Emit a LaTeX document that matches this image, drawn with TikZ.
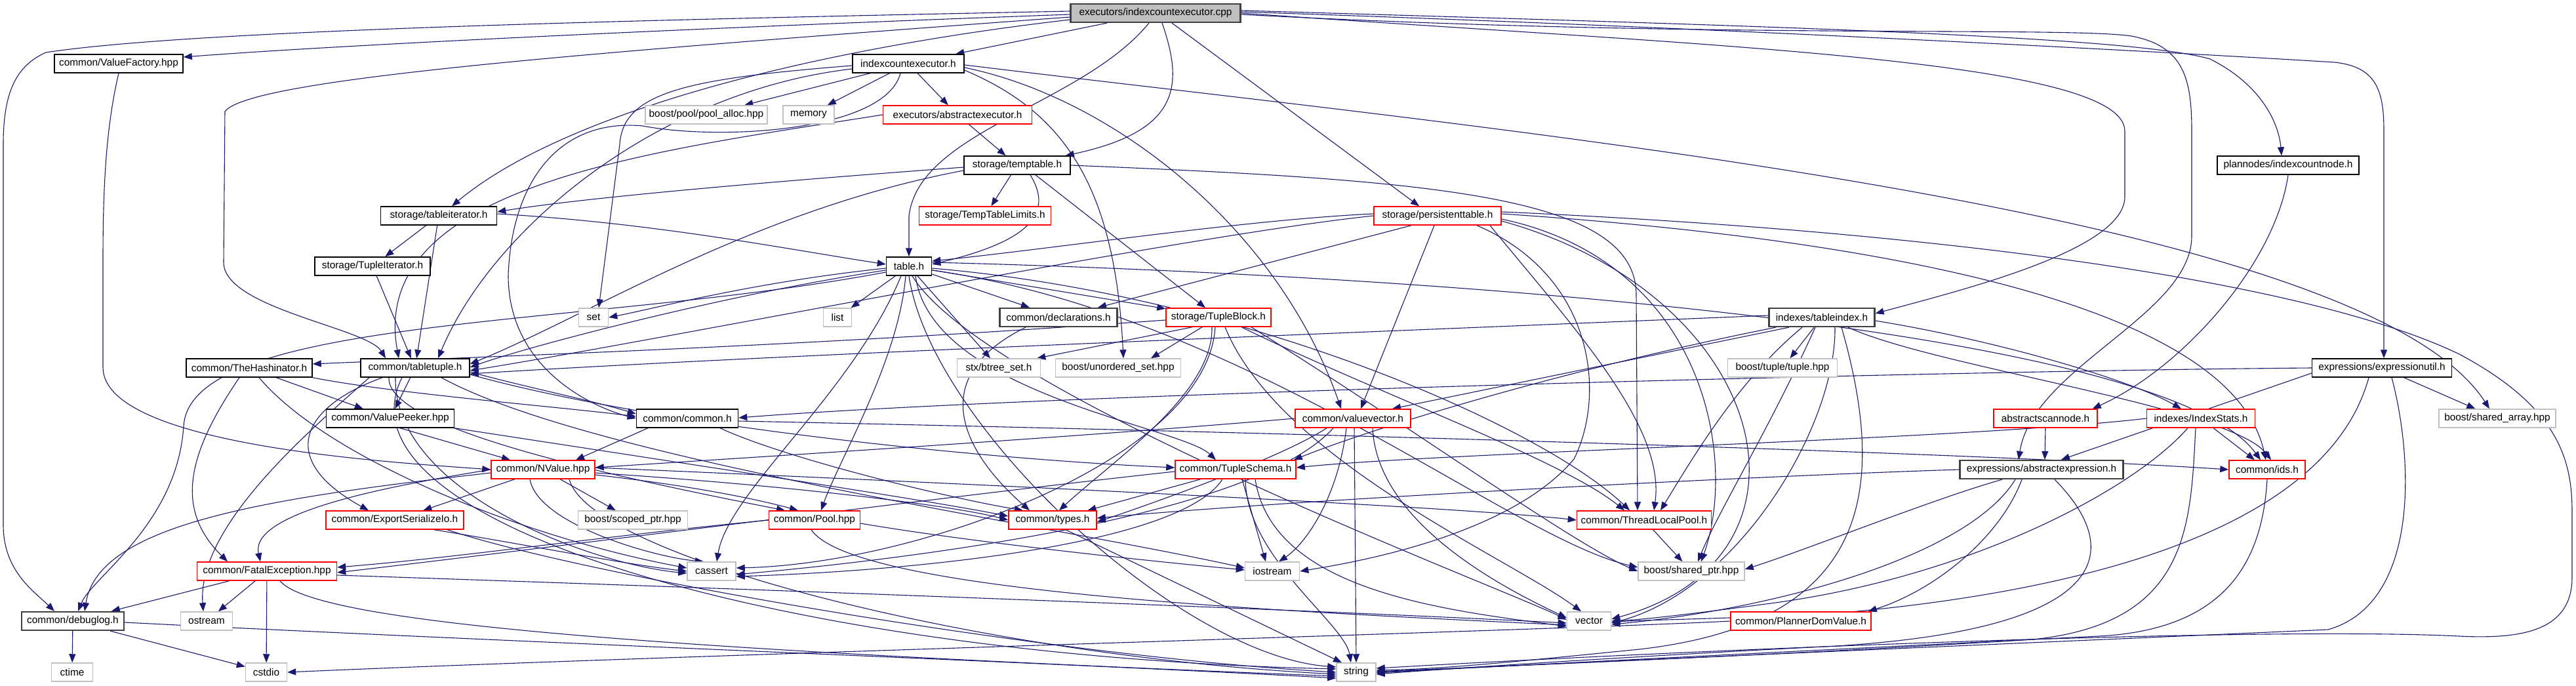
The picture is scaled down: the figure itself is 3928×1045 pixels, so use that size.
\documentclass[tikz,border=0pt]{standalone}
\usepackage{fontspec}
\setmainfont{Liberation Sans}
\usetikzlibrary{arrows.meta}
\definecolor{edgec}{HTML}{191970}
\definecolor{gbord}{HTML}{BFBFBF}
\definecolor{rootfill}{HTML}{BFBFBF}
\pgfdeclarelayer{back}
\pgfdeclarelayer{bg}
\pgfsetlayers{back,bg,main}
\begin{document}
\begin{tikzpicture}[x=1pt,y=-1pt,
  nb/.style={draw, fill=white, line width=1.5pt, minimum height=28pt, inner sep=0pt, font=\fontsize{15.4pt}{18pt}\selectfont, text=black},
  blk/.style={nb, draw=black},
  dblk/.style={nb, draw=black!75, line width=2.2pt},
  redb/.style={nb, draw=red},
  gryb/.style={nb, draw=gbord},
  rootb/.style={nb, draw=black!75, line width=2.2pt, fill=rootfill},
  edg/.style={draw=edgec, line width=1.1pt, -{Triangle[length=13pt,width=10pt]}}
]
\useasboundingbox (0,0) rectangle (3928,1045);
\begin{pgfonlayer}{back}
\fill[white] (0,0) rectangle (3928,1045);
\end{pgfonlayer}
% nodes
\node[rootb, minimum width=259pt] (cpp) at (1762,20) {executors/indexcountexecutor.cpp};
\node[blk, minimum width=196pt] (vf) at (181,97) {common/ValueFactory.hpp};
\node[blk, minimum width=170pt] (ice) at (1385,97) {indexcountexecutor.h};
\node[gryb, minimum width=186pt] (pool) at (1077,175) {boost/pool/pool\_alloc.hpp};
\node[gryb, minimum width=78pt] (mem) at (1233,175) {memory};
\node[redb, minimum width=227pt] (absx) at (1460,175) {executors/abstractexecutor.h};
\node[blk, minimum width=162pt] (temp) at (1551,252) {storage/temptable.h};
\node[redb, minimum width=201pt] (ttl) at (1502,329) {storage/TempTableLimits.h};
\node[redb, minimum width=194pt] (pers) at (2192,329) {storage/persistenttable.h};
\node[blk, minimum width=216pt] (icn) at (3489,252) {plannodes/indexcountnode.h};
\node[blk, minimum width=177pt] (titer) at (669,329) {storage/tableiterator.h};
\node[blk, minimum width=176pt] (tupit) at (568,406) {storage/TupleIterator.h};
\node[gryb, minimum width=45pt] (set) at (905,484) {set};
\node[blk, minimum width=192pt] (hash) at (380,561) {common/TheHashinator.h};
\node[blk, minimum width=166pt] (tt) at (633,561) {common/tabletuple.h};
\node[blk, minimum width=195pt] (vp) at (595,638) {common/ValuePeeker.hpp};
\node[blk, minimum width=155pt] (com) at (1048,638) {common/common.h};
\node[blk, minimum width=69pt] (table) at (1386,406) {table.h};
\node[gryb, minimum width=43pt] (list) at (1277,484) {list};
\node[dblk, minimum width=179pt] (decl) at (1614,484) {common/declarations.h};
\node[redb, minimum width=160pt] (tb) at (1858,484) {storage/TupleBlock.h};
\node[gryb, minimum width=127pt] (btree) at (1523,561) {stx/btree\_set.h};
\node[gryb, minimum width=191pt] (uset) at (1705,561) {boost/unordered\_set.hpp};
\node[redb, minimum width=176pt] (vv) at (2063,638) {common/valuevector.h};
\node[dblk, minimum width=161pt] (tidx) at (2778,484) {indexes/tableindex.h};
\node[gryb, minimum width=167pt] (tup) at (2718,561) {boost/tuple/tuple.hpp};
\node[blk, minimum width=213pt] (eu) at (3632,561) {expressions/expressionutil.h};
\node[redb, minimum width=158pt] (asn) at (3119,638) {abstractscannode.h};
\node[redb, minimum width=165pt] (istat) at (3356,638) {indexes/IndexStats.h};
\node[gryb, minimum width=178pt] (sarr) at (3808,638) {boost/shared\_array.hpp};
\node[redb, minimum width=158pt] (nv) at (828,716) {common/NValue.hpp};
\node[redb, minimum width=210pt] (esio) at (602,793) {common/ExportSerializeIo.h};
\node[gryb, minimum width=167pt] (sptr) at (965,793) {boost/scoped\_ptr.hpp};
\node[redb, minimum width=213pt] (fe) at (407,871) {common/FatalException.hpp};
\node[dblk, minimum width=156pt] (dbg) at (111,947) {common/debuglog.h};
\node[gryb, minimum width=79pt] (ostr) at (315,947) {ostream};
\node[gryb, minimum width=63pt] (ctime) at (110,1025) {ctime};
\node[gryb, minimum width=63pt] (cstdio) at (406,1025) {cstdio};
\node[redb, minimum width=139pt] (pool2) at (1242,793) {common/Pool.hpp};
\node[redb, minimum width=134pt] (types) at (1605,793) {common/types.h};
\node[redb, minimum width=184pt] (ts) at (1884,716) {common/TupleSchema.h};
\node[gryb, minimum width=74pt] (cas) at (1085,871) {cassert};
\node[gryb, minimum width=83pt] (ios) at (1940,871) {iostream};
\node[redb, minimum width=205pt] (tlp) at (2507,793) {common/ThreadLocalPool.h};
\node[gryb, minimum width=162pt] (shptr) at (2579,871) {boost/shared\_ptr.hpp};
\node[gryb, minimum width=67pt] (vec) at (2423,947) {vector};
\node[redb, minimum width=214pt] (pdv) at (2746,947) {common/PlannerDomValue.h};
\node[gryb, minimum width=60pt] (str) at (2068,1025) {string};
\node[dblk, minimum width=249pt] (ae) at (3113,716) {expressions/abstractexpression.h};
\node[redb, minimum width=116pt] (ids) at (3457,716) {common/ids.h};

\begin{pgfonlayer}{bg}
% cpp
\draw[edg] (cpp) -- (ice);
\draw[edg] ([yshift=3pt]cpp.west) .. controls (1000,30) and (300,45) .. (70,80) .. controls (25,100) and (5,140) .. (5,220) -- (5,800) .. controls (5,870) and (50,900) .. ([xshift=-28pt]dbg.north);
\draw[edg] ([yshift=-2pt]cpp.west) .. controls (1000,45) and (500,70) .. ([yshift=10pt]vf.east);
\draw[edg] ([yshift=-6pt]cpp.west) .. controls (900,80) and (380,120) .. (343,170) -- (341,400) .. controls (341,470) and (560,500) .. ([xshift=-45pt]tt.north);
\draw[edg] ([yshift=-10pt]cpp.west) .. controls (1200,80) and (850,180) .. ([xshift=20pt]titer.north);
\draw[edg] ([xshift=10pt]cpp.south) .. controls (1805,130) and (1800,200) .. ([xshift=-8pt]temp.north east);
\draw[edg] ([xshift=-10pt]cpp.south) .. controls (1650,160) and (1400,200) .. (1386,330) -- (table.north);
\draw[edg] ([xshift=25pt]cpp.south) -- ([xshift=-28pt]pers.north);
\draw[edg] ([yshift=4pt]cpp.east) .. controls (2700,40) and (3250,55) .. (3370,90) .. controls (3450,130) and (3475,190) .. ([xshift=-10pt]icn.north);
\draw[edg] ([yshift=2pt]cpp.east) .. controls (2700,45) and (3400,85) .. (3560,95) .. controls (3625,102) and (3635,140) .. (3635,200) -- ([xshift=3pt]eu.north);
\draw[edg] (cpp.east) .. controls (2600,70) and (3240,90) .. (3240,200) -- (3240,300) .. controls (3240,380) and (3000,440) .. ([yshift=6pt]tidx.east);
\draw[edg] ([yshift=-2pt]cpp.east) .. controls (2600,60) and (3150,40) .. (3250,55) .. controls (3330,70) and (3342,120) .. (3342,200) -- (3342,360) .. controls (3342,480) and (3100,560) .. ([xshift=-35pt]ae.north);
% vf
\draw[edg] (vf.south) .. controls (160,200) and (157,300) .. (157,400) -- (157,560) .. controls (157,680) and (600,705) .. (nv.west);
% ice
\draw[edg] (ice) -- (pool);
\draw[edg] (ice) -- (mem);
\draw[edg] (ice) -- (absx);
\draw[edg] ([yshift=-3pt]ice.west) .. controls (1050,120) and (950,140) .. (945,220) -- ([xshift=8pt]set.north);
\draw[edg] ([yshift=-8pt]ice.west) .. controls (1000,140) and (750,350) .. ([xshift=35pt]tt.north);
\draw[edg] ([xshift=-12pt]ice.south) .. controls (1350,200) and (1100,215) .. (980,192) .. controls (850,180) and (780,280) .. (775,420) .. controls (775,560) and (900,620) .. (com.west);
\draw[edg] ([yshift=-6pt]ice.east) .. controls (1700,150) and (1950,350) .. ([xshift=-18pt]vv.north);
\draw[edg] ([yshift=-10pt]ice.east) .. controls (1620,170) and (1700,280) .. ([xshift=8pt]uset.north);
\draw[edg] ([yshift=-2pt]ice.east) .. controls (2300,200) and (3600,320) .. ([xshift=-12pt]sarr.north);
% absx
\draw[edg] (absx) -- (temp);
\draw[edg] (absx.west) .. controls (1000,230) and (560,280) .. ([xshift=-25pt]tt.north);
% temp
\draw[edg] (temp) -- (ttl);
\draw[edg] ([yshift=-3pt]temp.west) .. controls (1200,275) and (900,300) .. ([yshift=6pt]titer.east);
\draw[edg] ([yshift=-8pt]temp.west) .. controls (1150,320) and (900,480) .. ([yshift=6pt]tt.east);
\draw[edg] ([xshift=20pt]temp.south) .. controls (1610,330) and (1560,370) .. ([yshift=3pt]table.east);
\draw[edg] ([xshift=28pt]temp.south) -- ([xshift=-20pt]tb.north);
\draw[edg] (temp.east) .. controls (2200,275) and (2495,300) .. (2495,450) -- ([xshift=-10pt]tlp.north);
% titer
\draw[edg] (titer) -- (tupit);
\draw[edg] (titer) -- (tt);
\draw[edg] ([yshift=3pt]titer.east) .. controls (1000,340) and (1200,380) .. ([yshift=3pt]table.west);
% tupit
\draw[edg] (tupit) -- (tt);
% table
\draw[edg] (table) -- (list);
\draw[edg] (table) -- (decl);
\draw[edg] (table) -- (tb);
\draw[edg] (table) -- (btree);
\draw[edg] ([yshift=-3pt]table.west) .. controls (1150,430) and (1000,470) .. (set.east);
\draw[edg] ([yshift=-6pt]table.west) .. controls (1100,450) and (800,530) .. ([yshift=1pt]tt.east);
\draw[edg] ([yshift=-9pt]table.west) .. controls (900,500) and (290,480) .. (280,650) .. controls (270,800) and (140,880) .. ([xshift=8pt]dbg.north);
\draw[edg] ([xshift=10pt]table.south) .. controls (1420,600) and (1800,650) .. ([xshift=-30pt]ts.north);
\draw[edg] ([xshift=-5pt]table.south) .. controls (1370,550) and (1280,700) .. ([xshift=10pt]pool2.north);
\draw[edg] ([xshift=-12pt]table.south) .. controls (1300,600) and (1110,750) .. ([xshift=8pt]cas.north);
\draw[edg] ([yshift=-3pt]table.east) .. controls (1900,450) and (2350,650) .. ([xshift=-22pt]tlp.north);
\draw[edg] ([yshift=-6pt]table.east) .. controls (1900,480) and (2300,820) .. ([yshift=6pt]shptr.west);
\draw[edg] ([xshift=5pt]table.south) .. controls (1500,600) and (2300,900) .. ([yshift=2pt]vec.west);
\draw[edg] (table.south) .. controls (1420,650) and (1800,1000) .. ([yshift=8pt]str.west);
\draw[edg] ([yshift=6pt]table.east) .. controls (2200,420) and (3300,500) .. ([xshift=-10pt]ids.north);
% pers
\draw[edg] ([yshift=3pt]pers.west) .. controls (1900,335) and (1600,380) .. ([yshift=8pt]table.east);
\draw[edg] ([xshift=-40pt]pers.south) -- ([xshift=60pt]decl.north);
\draw[edg] (pers.west) .. controls (1800,360) and (1000,520) .. ([yshift=-4pt]tt.east);
\draw[edg] ([xshift=-5pt]pers.south) -- ([xshift=12pt]vv.north);
\draw[edg] ([xshift=60pt]pers.south) .. controls (2430,420) and (2450,600) .. (2400,700) .. controls (2300,820) and (2050,860) .. (ios.east);
\draw[edg] ([xshift=80pt]pers.south) .. controls (2400,500) and (2540,650) .. ([xshift=15pt]tlp.north);
\draw[edg] ([yshift=-5pt]pers.east) .. controls (2600,400) and (2650,700) .. ([xshift=15pt]shptr.north);
\draw[edg] ([yshift=-8pt]pers.east) .. controls (2700,450) and (2800,850) .. ([yshift=3pt]vec.east);
\draw[edg] ([yshift=6pt]pers.east) .. controls (2900,350) and (3500,420) .. (3750,540) .. controls (3900,620) and (3922,700) .. (3922,780) -- (3922,880) .. controls (3922,960) and (3850,975) .. (3750,970) .. controls (3450,955) and (2600,990) .. ([yshift=6pt]str.east);
\draw[edg] ([yshift=3pt]pers.east) .. controls (2800,360) and (3400,450) .. ([xshift=-2pt]ids.north);
% decl
\draw[edg] ([xshift=-50pt]decl.south) .. controls (1400,580) and (1480,700) .. ([xshift=-35pt]types.north);
% tb
\draw[edg] ([xshift=-40pt]tb.south) -- ([xshift=-6pt]btree.north east);
\draw[edg] ([xshift=-25pt]tb.south) -- ([xshift=50pt]uset.north);
\draw[edg] ([yshift=-4pt]tb.west) .. controls (1200,530) and (700,545) .. ([yshift=6pt]hash.east);
\draw[edg] ([xshift=-10pt]tb.south) .. controls (1850,600) and (1700,700) .. ([xshift=10pt]types.north);
\draw[edg] ([xshift=-5pt]tb.south) .. controls (1840,700) and (1400,860) .. ([yshift=5pt]cas.east);
\draw[edg] ([xshift=35pt]tb.south) .. controls (2100,600) and (2380,700) .. ([xshift=-30pt]tlp.north);
\draw[edg] ([xshift=50pt]tb.south) .. controls (2150,650) and (2400,830) .. (shptr.west);
\draw[edg] ([xshift=10pt]tb.south) .. controls (1950,700) and (2300,850) .. ([xshift=-12pt]vec.north);
% tidx
\draw[edg] ([yshift=3pt]tidx.west) .. controls (2000,510) and (1200,540) .. ([yshift=-9pt]tt.east);
\draw[edg] ([xshift=-50pt]tidx.south) -- ([xshift=60pt]vv.north);
\draw[edg] ([xshift=-70pt]tidx.south) .. controls (2400,560) and (2100,650) .. ([xshift=-4pt]ts.north east);
\draw[edg] (tidx) -- (tup);
\draw[edg] ([yshift=-5pt]tidx.east) .. controls (3050,520) and (3250,580) .. ([xshift=-30pt]istat.north);
\draw[edg] ([xshift=40pt]tidx.south) .. controls (2950,560) and (3400,620) .. ([xshift=6pt]ids.north);
\draw[edg] ([xshift=-30pt]tidx.south) .. controls (2650,580) and (2580,700) .. ([xshift=25pt]tlp.north);
\draw[edg] ([xshift=-10pt]tidx.south) .. controls (2700,650) and (2620,780) .. ([xshift=10pt]shptr.north);
\draw[edg] ([xshift=20pt]tidx.south) .. controls (2800,650) and (2650,900) .. ([yshift=-3pt]vec.east);
\draw[edg] ([xshift=30pt]tidx.south) .. controls (2880,750) and (2850,950) .. (2500,990) .. controls (2300,1010) and (2200,1020) .. ([yshift=3pt]str.east);
% icn, asn
\draw[edg] (icn.south) .. controls (3470,400) and (3330,560) .. ([xshift=-8pt]asn.north east);
\draw[edg] (asn.south) -- ([xshift=5pt]ae.north);
% eu
\draw[edg] (eu.west) .. controls (3000,565) and (1600,600) .. ([yshift=1pt]com.east);
\draw[edg] ([yshift=-8pt]eu.west) -- ([xshift=30pt]ae.north);
\draw[edg] (eu) -- (sarr);
\draw[edg] ([xshift=-20pt]eu.south) .. controls (3550,800) and (3200,900) .. (2800,935) .. controls (2600,945) and (2500,945) .. ([yshift=-2pt]vec.east);
\draw[edg] ([xshift=15pt]eu.south) .. controls (3680,700) and (3690,920) .. (3550,960) .. controls (3100,980) and (2400,1010) .. (str.east);
% ae
\draw[edg] (ae.west) .. controls (2700,725) and (2000,760) .. ([yshift=3pt]types.east);
\draw[edg] ([xshift=-30pt]ae.south) .. controls (3050,820) and (2950,900) .. ([xshift=-5pt]pdv.north east);
\draw[edg] ([xshift=-40pt]ae.south) .. controls (3000,850) and (2700,930) .. ([yshift=-5pt]vec.east);
\draw[edg] ([xshift=20pt]ae.south) .. controls (3250,850) and (3200,960) .. (2800,985) .. controls (2500,1000) and (2200,1020) .. ([yshift=-3pt]str.east);
\draw[edg] ([xshift=-60pt]ae.south) .. controls (2950,760) and (2750,840) .. ([yshift=3pt]shptr.east);
% istat
\draw[edg] (istat.west) .. controls (3000,670) and (2200,690) .. ([yshift=3pt]ts.east);
\draw[edg] (istat) -- (ids);
\draw[edg] ([xshift=-20pt]istat.south) .. controls (3250,750) and (3000,880) .. (2700,920) .. controls (2550,940) and (2500,945) .. (vec.east);
\draw[edg] ([xshift=-8pt]istat.south) .. controls (3340,800) and (3340,950) .. (3100,975) .. controls (2700,1000) and (2300,1015) .. ([yshift=1pt]str.east);
% ids
\draw[edg] (ids.south) .. controls (3450,850) and (3400,960) .. (3200,970) .. controls (2800,990) and (2300,1015) .. ([yshift=-1pt]str.east);
% pdv
\draw[edg] (pdv.west) .. controls (2400,960) and (1000,1000) .. (cstdio.east);
% hash
\draw[edg] (hash.south east) .. controls (600,600) and (850,620) .. ([yshift=3pt]com.west);
\draw[edg] (hash) -- (vp);
\draw[edg] ([xshift=-15pt]hash.south) .. controls (280,700) and (270,780) .. ([xshift=-60pt]fe.north);
\draw[edg] ([xshift=15pt]hash.south) .. controls (500,700) and (800,820) .. ([yshift=5pt]cas.west);
% tt
\draw[edg] (tt) -- (vp);
\draw[edg] ([yshift=-6pt]tt.east) .. controls (800,590) and (900,610) .. ([yshift=7pt]com.west);
\draw[edg] ([xshift=-50pt]tt.south) .. controls (460,620) and (420,700) .. ([xshift=-40pt]esio.north);
\draw[edg] ([xshift=-70pt]tt.south) .. controls (480,650) and (300,800) .. ([xshift=-5pt]ostr.north);
\draw[edg] ([xshift=-40pt]tt.south) .. controls (590,650) and (900,720) .. ([xshift=-45pt]pool2.north);
\draw[edg] ([yshift=-10pt]tt.east) .. controls (1000,650) and (1500,700) .. ([yshift=3pt]ts.west);
\draw[edg] ([xshift=-30pt]tt.south) .. controls (600,750) and (900,860) .. ([yshift=-3pt]cas.west);
\draw[edg] ([xshift=40pt]tt.south) .. controls (900,700) and (1600,800) .. ([yshift=5pt]ios.west);
\draw[edg] ([xshift=-20pt]tt.south) .. controls (500,800) and (1200,1000) .. ([yshift=5pt]str.west);
% vp
\draw[edg] ([xshift=15pt]vp.south) -- ([xshift=-50pt]nv.north);
\draw[edg] (vp.south east) .. controls (1000,700) and (1400,760) .. ([yshift=6pt]types.west);
% com
\draw[edg] ([xshift=-60pt]com.south) -- ([xshift=50pt]nv.north);
\draw[edg] ([xshift=50pt]com.south) .. controls (1200,700) and (1450,760) .. ([xshift=-45pt]types.north);
\draw[edg] ([yshift=-4pt]com.east) .. controls (2000,660) and (3000,690) .. (ids.west);
% vv
\draw[edg] (vv.west) .. controls (1600,670) and (1100,700) .. ([yshift=3pt]nv.east);
\draw[edg] ([xshift=-40pt]vv.south) .. controls (1950,700) and (1750,770) .. ([yshift=-3pt]types.east);
\draw[edg] ([xshift=-30pt]vv.south) .. controls (1900,800) and (1300,860) .. ([yshift=-5pt]cas.east);
\draw[edg] ([xshift=-10pt]vv.south) .. controls (2040,760) and (1990,830) .. ([xshift=10pt]ios.north);
\draw[edg] ([xshift=30pt]vv.south) .. controls (2100,800) and (2300,900) .. ([yshift=5pt]vec.west);
\draw[edg] ([xshift=2pt]vv.south) -- (str.north);
% nv
\draw[edg] (nv) -- (esio);
\draw[edg] (nv) -- (sptr);
\draw[edg] (nv.west) .. controls (600,740) and (380,780) .. ([xshift=-10pt]fe.north);
\draw[edg] ([yshift=-5pt]nv.west) .. controls (400,760) and (150,800) .. ([xshift=18pt]dbg.north);
\draw[edg] ([yshift=-5pt]nv.east) .. controls (1200,740) and (1450,770) .. (types.west);
\draw[edg] ([yshift=-8pt]nv.east) .. controls (1050,740) and (1150,760) .. ([xshift=-25pt]pool2.north);
\draw[edg] ([xshift=-20pt]nv.south) .. controls (820,800) and (1000,850) .. ([xshift=-12pt]cas.north);
\draw[edg] ([xshift=40pt]nv.south) .. controls (900,850) and (1500,1000) .. ([yshift=-3pt]str.west);
\draw[edg] ([yshift=3pt]nv.east) .. controls (1300,730) and (2200,770) .. (tlp.west);
% esio
\draw[edg] ([xshift=60pt]esio.south) .. controls (800,830) and (950,860) .. (cas.west);
\draw[edg] ([xshift=80pt]esio.south) .. controls (900,880) and (1600,1000) .. (str.west);
% fe
\draw[edg] (fe) -- (dbg);
\draw[edg] (fe) -- (ostr);
\draw[edg] (fe) -- (cstdio);
\draw[edg] ([xshift=20pt]fe.south) .. controls (480,950) and (1000,990) .. ([yshift=-6pt]str.west);
\draw[edg] ([yshift=-6pt]fe.east) .. controls (1200,900) and (2000,930) .. ([yshift=-3pt]vec.west);
% dbg
\draw[edg] (dbg) -- (ctime);
\draw[edg] (dbg) -- (cstdio);
\draw[edg] ([yshift=-2pt]dbg.east) .. controls (800,980) and (1600,1010) .. ([yshift=-9pt]str.west);
% pool2
\draw[edg] (pool2.west) .. controls (900,820) and (700,850) .. ([yshift=6pt]fe.east);
\draw[edg] ([yshift=-5pt]pool2.east) .. controls (1500,830) and (1800,860) .. ([yshift=2pt]ios.west);
\draw[edg] ([xshift=-5pt]pool2.south) .. controls (1300,900) and (1900,930) .. ([yshift=-6pt]vec.west);
% types
\draw[edg] ([xshift=20pt]types.south) -- ([xshift=-22pt]str.north);
% ts
\draw[edg] (ts) -- (types);
\draw[edg] ([xshift=-20pt]ts.south) .. controls (1800,830) and (1400,870) .. ([yshift=-8pt]cas.east);
\draw[edg] ([xshift=10pt]ts.south) -- ([xshift=-10pt]ios.north);
\draw[edg] ([xshift=30pt]ts.south) .. controls (1940,900) and (2200,930) .. ([yshift=-8pt]vec.west);
\draw[edg] ([xshift=15pt]ts.south) .. controls (1900,850) and (2050,950) .. ([xshift=-8pt]str.north);
\draw[edg] ([yshift=-3pt]ts.west) .. controls (1500,750) and (800,840) .. ([yshift=-2pt]fe.east);
% tlp
\draw[edg] (tlp) -- (shptr);
\end{pgfonlayer}
\end{tikzpicture}
\end{document}
